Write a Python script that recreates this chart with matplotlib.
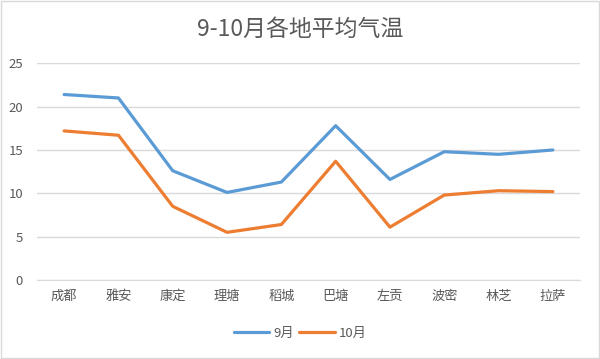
import matplotlib
matplotlib.use("Agg")
import matplotlib.pyplot as plt
from matplotlib.patches import Rectangle

plt.rcParams['font.family'] = ['Noto Sans CJK SC', 'DejaVu Sans']

cities = ['成都', '雅安', '康定', '理塘', '稻城', '巴塘', '左贡', '波密', '林芝', '拉萨']
sep = [21.4, 21.0, 12.6, 10.1, 11.3, 17.8, 11.6, 14.8, 14.5, 15.0]
octo = [17.2, 16.7, 8.5, 5.5, 6.4, 13.7, 6.1, 9.8, 10.3, 10.2]
yticks = [0, 5, 10, 15, 20, 25]

txt = '#595959'

fig = plt.figure(figsize=(6, 3.59), dpi=100)
ax = fig.add_axes([37 / 600, 79 / 359, 543 / 600, (280 - 63.3) / 359])

x = range(len(cities))
ax.plot(x, sep, color='#5B9BD5', lw=2.3, label='9月', solid_capstyle='round', solid_joinstyle='round')
ax.plot(x, octo, color='#ED7D31', lw=2.3, label='10月', solid_capstyle='round', solid_joinstyle='round')

ax.set_xlim(-0.5, len(cities) - 0.5)
ax.set_ylim(0, 25)
ax.set_yticks(yticks)
ax.set_xticks(list(x))
ax.set_xticklabels(cities)
ax.yaxis.grid(True, color='#D9D9D9', lw=1)
ax.set_axisbelow(True)
for s in ['top', 'right', 'left']:
    ax.spines[s].set_visible(False)
ax.spines['bottom'].set_color('#D9D9D9')
ax.tick_params(axis='both', length=0, colors=txt, labelsize=9.5)
ax.tick_params(axis='y', pad=10)
ax.tick_params(axis='x', pad=7)

fig.text(0.5, 1 - 29 / 359, '9-10月各地平均气温', ha='center', va='center', fontsize=16.5, color=txt)

leg = fig.legend(loc='center', bbox_to_anchor=(0.5, 1 - 333 / 359), ncol=2, frameon=False,
                 fontsize=9.5, handlelength=2.7, handletextpad=0.3, columnspacing=0.4)
for t in leg.get_texts():
    t.set_color(txt)

fig.patches.append(Rectangle((0.002, 0.003), 0.996, 0.994, transform=fig.transFigure,
                             fill=False, edgecolor='#D9D9D9', lw=1))

fig.savefig('out.png', dpi=100, facecolor='white')
